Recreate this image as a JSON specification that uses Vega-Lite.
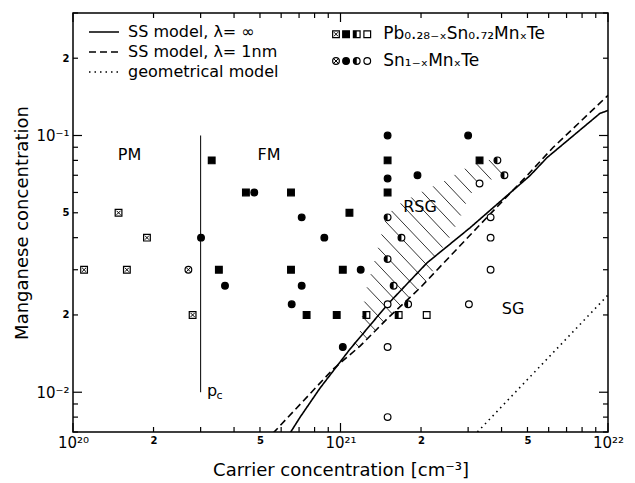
{
"$schema": "https://vega.github.io/schema/vega-lite/v6.json",
"width": 535, "height": 419,
"autosize": {"type": "none"},
"padding": {"left": 73, "top": 13, "right": 27, "bottom": 51},
"background": "white",
"config": {
  "view": {"stroke": "black", "strokeWidth": 1.5},
  "font": "DejaVu Sans",
  "axis": {"domain": false, "grid": false, "ticks": false, "labelColor": "black", "titleColor": "black", "titleFontWeight": "normal", "labelFont": "DejaVu Sans", "titleFont": "DejaVu Sans", "labelOverlap": false, "labelBound": false, "labelFlush": false},
  "legend": {"orient": "none", "legendX": 23, "legendY": 11, "title": null, "labelFontSize": 16, "labelFont": "DejaVu Sans", "labelColor": "black", "symbolType": "M-3,0L3,0", "symbolSize": 100, "symbolStrokeColor": "black", "symbolStrokeWidth": 1.5, "labelOffset": 16, "rowPadding": 4, "padding": 0}
},
"datasets": {
  "pts": [
    {"m":"Pb","s":"cross","x":1.1e20,"y":0.03},
    {"m":"Pb","s":"cross","x":1.48e20,"y":0.05},
    {"m":"Pb","s":"cross","x":1.59e20,"y":0.03},
    {"m":"Pb","s":"cross","x":1.89e20,"y":0.04},
    {"m":"Pb","s":"cross","x":2.8e20,"y":0.02},
    {"m":"Sn","s":"cross","x":2.7e20,"y":0.03},
    {"m":"Pb","s":"filled","x":3.3e20,"y":0.08},
    {"m":"Pb","s":"filled","x":3.51e20,"y":0.03},
    {"m":"Pb","s":"filled","x":4.43e20,"y":0.06},
    {"m":"Pb","s":"filled","x":6.53e20,"y":0.06},
    {"m":"Pb","s":"filled","x":6.53e20,"y":0.03},
    {"m":"Pb","s":"filled","x":7.47e20,"y":0.02},
    {"m":"Pb","s":"filled","x":9.68e20,"y":0.02},
    {"m":"Pb","s":"filled","x":1.02e21,"y":0.03},
    {"m":"Pb","s":"filled","x":1.08e21,"y":0.05},
    {"m":"Pb","s":"filled","x":1.5e21,"y":0.08},
    {"m":"Pb","s":"filled","x":1.5e21,"y":0.06},
    {"m":"Pb","s":"filled","x":3.31e21,"y":0.08},
    {"m":"Pb","s":"half","x":1.25e21,"y":0.02},
    {"m":"Pb","s":"half","x":1.65e21,"y":0.02},
    {"m":"Pb","s":"open","x":2.1e21,"y":0.02},
    {"m":"Sn","s":"filled","x":3.01e20,"y":0.04},
    {"m":"Sn","s":"filled","x":3.7e20,"y":0.026},
    {"m":"Sn","s":"filled","x":4.76e20,"y":0.06},
    {"m":"Sn","s":"filled","x":7.16e20,"y":0.048},
    {"m":"Sn","s":"filled","x":7.16e20,"y":0.026},
    {"m":"Sn","s":"filled","x":6.57e20,"y":0.022},
    {"m":"Sn","s":"filled","x":8.7e20,"y":0.04},
    {"m":"Sn","s":"filled","x":1.19e21,"y":0.03},
    {"m":"Sn","s":"filled","x":1.02e21,"y":0.015},
    {"m":"Sn","s":"filled","x":1.5e21,"y":0.1},
    {"m":"Sn","s":"filled","x":1.5e21,"y":0.068},
    {"m":"Sn","s":"filled","x":1.94e21,"y":0.07},
    {"m":"Sn","s":"filled","x":3.0e21,"y":0.1},
    {"m":"Sn","s":"half","x":1.5e21,"y":0.048},
    {"m":"Sn","s":"half","x":1.69e21,"y":0.04},
    {"m":"Sn","s":"half","x":1.5e21,"y":0.033},
    {"m":"Sn","s":"half","x":1.58e21,"y":0.026},
    {"m":"Sn","s":"half","x":1.79e21,"y":0.022},
    {"m":"Sn","s":"half","x":3.86e21,"y":0.08},
    {"m":"Sn","s":"half","x":4.1e21,"y":0.07},
    {"m":"Sn","s":"open","x":1.5e21,"y":0.022},
    {"m":"Sn","s":"open","x":1.5e21,"y":0.015},
    {"m":"Sn","s":"open","x":1.5e21,"y":0.008},
    {"m":"Sn","s":"open","x":3.02e21,"y":0.022},
    {"m":"Sn","s":"open","x":3.31e21,"y":0.065},
    {"m":"Sn","s":"open","x":3.64e21,"y":0.048},
    {"m":"Sn","s":"open","x":3.64e21,"y":0.04},
    {"m":"Sn","s":"open","x":3.64e21,"y":0.03}
  ],
  "keysym": [
    {"m":"Pb","s":"cross","x":9.62e20,"y":0.248},
    {"m":"Pb","s":"filled","x":1.049e21,"y":0.248},
    {"m":"Pb","s":"half","x":1.15e21,"y":0.248},
    {"m":"Pb","s":"open","x":1.259e21,"y":0.248},
    {"m":"Sn","s":"cross","x":9.62e20,"y":0.195},
    {"m":"Sn","s":"filled","x":1.049e21,"y":0.195},
    {"m":"Sn","s":"half","x":1.15e21,"y":0.195},
    {"m":"Sn","s":"open","x":1.259e21,"y":0.195}
  ],
  "keytext": [
    {"t":"Pb₀.₂₈₋ₓSn₀.₇₂MnₓTe","x":1.445e21,"y":0.248},
    {"t":"Sn₁₋ₓMnₓTe","x":1.445e21,"y":0.195}
  ],
  "xt": [{"v":1e20},{"v":2e20},{"v":3e20},{"v":4e20},{"v":5e20},{"v":6e20},{"v":7e20},{"v":8e20},{"v":9e20},{"v":1e21},{"v":2e21},{"v":3e21},{"v":4e21},{"v":5e21},{"v":6e21},{"v":7e21},{"v":8e21},{"v":9e21},{"v":1e22}],
  "yt": [{"v":0.007},{"v":0.008},{"v":0.009},{"v":0.01},{"v":0.02},{"v":0.03},{"v":0.04},{"v":0.05},{"v":0.06},{"v":0.07},{"v":0.08},{"v":0.09},{"v":0.1},{"v":0.2},{"v":0.3}],
  "curves": [
    {"model":"SS model, λ= ∞","x":6.47e20,"y":0.00692},
    {"model":"SS model, λ= ∞","x":7.06e20,"y":0.00799},
    {"model":"SS model, λ= ∞","x":8.38e20,"y":0.01037},
    {"model":"SS model, λ= ∞","x":1.085e21,"y":0.01472},
    {"model":"SS model, λ= ∞","x":1.505e21,"y":0.02207},
    {"model":"SS model, λ= ∞","x":2.106e21,"y":0.03191},
    {"model":"SS model, λ= ∞","x":3.05e21,"y":0.04371},
    {"model":"SS model, λ= ∞","x":5.11e21,"y":0.06978},
    {"model":"SS model, λ= ∞","x":5.92e21,"y":0.08205},
    {"model":"SS model, λ= ∞","x":9.33e21,"y":0.1219},
    {"model":"SS model, λ= ∞","x":1e22,"y":0.1252},
    {"model":"SS model, λ= 1nm","x":5.59e20,"y":0.00692},
    {"model":"SS model, λ= 1nm","x":7.24e20,"y":0.00922},
    {"model":"SS model, λ= 1nm","x":9.38e20,"y":0.0123},
    {"model":"SS model, λ= 1nm","x":1.183e21,"y":0.01512},
    {"model":"SS model, λ= 1nm","x":1.505e21,"y":0.01946},
    {"model":"SS model, λ= 1nm","x":1.983e21,"y":0.02548},
    {"model":"SS model, λ= 1nm","x":3.24e21,"y":0.04371},
    {"model":"SS model, λ= 1nm","x":4.98e21,"y":0.06978},
    {"model":"SS model, λ= 1nm","x":6.23e21,"y":0.08977},
    {"model":"SS model, λ= 1nm","x":1e22,"y":0.1433},
    {"model":"geometrical model","x":3.25e21,"y":0.007},
    {"model":"geometrical model","x":1e22,"y":0.0239}
  ],
  "hatch": [
    {"x":1.130e21,"y":0.01562,"x2":1.173e21,"y2":0.01500},
    {"x":1.183e21,"y":0.01731,"x2":1.260e21,"y2":0.01615},
    {"x":1.205e21,"y":0.01976,"x2":1.353e21,"y2":0.01740},
    {"x":1.228e21,"y":0.02255,"x2":1.453e21,"y2":0.01875},
    {"x":1.256e21,"y":0.02562,"x2":1.562e21,"y2":0.02019},
    {"x":1.298e21,"y":0.02883,"x2":1.680e21,"y2":0.02169},
    {"x":1.340e21,"y":0.03243,"x2":1.808e21,"y2":0.02333},
    {"x":1.382e21,"y":0.03652,"x2":1.945e21,"y2":0.02510},
    {"x":1.423e21,"y":0.04119,"x2":2.088e21,"y2":0.02706},
    {"x":1.464e21,"y":0.04656,"x2":2.212e21,"y2":0.02961},
    {"x":1.552e21,"y":0.05084,"x2":2.264e21,"y2":0.03362},
    {"x":1.678e21,"y":0.05439,"x2":2.410e21,"y2":0.03658},
    {"x":1.839e21,"y":0.05736,"x2":2.553e21,"y2":0.03999},
    {"x":2.017e21,"y":0.06038,"x2":2.684e21,"y2":0.04410},
    {"x":2.219e21,"y":0.06339,"x2":2.817e21,"y2":0.04879},
    {"x":2.442e21,"y":0.06648,"x2":2.938e21,"y2":0.05425},
    {"x":2.668e21,"y":0.07023,"x2":3.094e21,"y2":0.05973},
    {"x":2.917e21,"y":0.07425,"x2":3.294e21,"y2":0.06494},
    {"x":3.219e21,"y":0.07766,"x2":3.662e21,"y2":0.06737},
    {"x":3.587e21,"y":0.08030,"x2":4.026e21,"y2":0.07073}
  ],
  "pc": [{"x":3e20,"y":0.01,"y2":0.1}],
  "regions": [
    {"t":"PM","x":1.626e20,"y":0.0843},
    {"t":"FM","x":5.404e20,"y":0.0843},
    {"t":"RSG","x":1.983e21,"y":0.0528},
    {"t":"SG","x":4.416e21,"y":0.0211}
  ],
  "pcp": [{"t":"p","x":3.17e20,"y":0.00965}],
  "pcc": [{"t":"c","x":3.44e20,"y":0.00939}]
},
"resolve": {"axis": {"x": "independent", "y": "independent"}},
"layer": [
  {"data":{"name":"xt"},"transform":[{"filter":"!(datum.v==1e20||datum.v==1e21||datum.v==1e22)"}],
   "mark":{"type":"rule","color":"black","strokeWidth":1.2,"y2Offset":-5},
   "encoding":{"x":{"field":"v","type":"quantitative","scale":{"type":"log","domain":[1e20,1e22],"nice":false},"axis":null},
     "y":{"datum":0.007,"type":"quantitative","scale":{"type":"log","domain":[0.007,0.3],"nice":false},"axis":null},
     "y2":{"datum":0.007}}},
  {"data":{"name":"xt"},"transform":[{"filter":"datum.v==1e20||datum.v==1e21||datum.v==1e22"}],
   "mark":{"type":"rule","color":"black","strokeWidth":1.2,"y2Offset":-9},
   "encoding":{"x":{"field":"v","type":"quantitative","scale":{"type":"log","domain":[1e20,1e22],"nice":false},"axis":null},
     "y":{"datum":0.007,"type":"quantitative","scale":{"type":"log","domain":[0.007,0.3],"nice":false},"axis":null},
     "y2":{"datum":0.007}}},
  {"data":{"name":"xt"},"transform":[{"filter":"!(datum.v==1e20||datum.v==1e21||datum.v==1e22)"}],
   "mark":{"type":"rule","color":"black","strokeWidth":1.2,"y2Offset":5},
   "encoding":{"x":{"field":"v","type":"quantitative","scale":{"type":"log","domain":[1e20,1e22],"nice":false},"axis":null},
     "y":{"datum":0.3,"type":"quantitative","scale":{"type":"log","domain":[0.007,0.3],"nice":false},"axis":null},
     "y2":{"datum":0.3}}},
  {"data":{"name":"xt"},"transform":[{"filter":"datum.v==1e20||datum.v==1e21||datum.v==1e22"}],
   "mark":{"type":"rule","color":"black","strokeWidth":1.2,"y2Offset":9},
   "encoding":{"x":{"field":"v","type":"quantitative","scale":{"type":"log","domain":[1e20,1e22],"nice":false},"axis":null},
     "y":{"datum":0.3,"type":"quantitative","scale":{"type":"log","domain":[0.007,0.3],"nice":false},"axis":null},
     "y2":{"datum":0.3}}},
  {"data":{"name":"yt"},"transform":[{"filter":"!(datum.v==0.01||datum.v==0.1)"}],
   "mark":{"type":"rule","color":"black","strokeWidth":1.2,"x2Offset":5},
   "encoding":{"y":{"field":"v","type":"quantitative","scale":{"type":"log","domain":[0.007,0.3],"nice":false},"axis":null},
     "x":{"datum":1e20,"type":"quantitative","scale":{"type":"log","domain":[1e20,1e22],"nice":false},"axis":null},
     "x2":{"datum":1e20}}},
  {"data":{"name":"yt"},"transform":[{"filter":"datum.v==0.01||datum.v==0.1"}],
   "mark":{"type":"rule","color":"black","strokeWidth":1.2,"x2Offset":9},
   "encoding":{"y":{"field":"v","type":"quantitative","scale":{"type":"log","domain":[0.007,0.3],"nice":false},"axis":null},
     "x":{"datum":1e20,"type":"quantitative","scale":{"type":"log","domain":[1e20,1e22],"nice":false},"axis":null},
     "x2":{"datum":1e20}}},
  {"data":{"name":"yt"},"transform":[{"filter":"!(datum.v==0.01||datum.v==0.1)"}],
   "mark":{"type":"rule","color":"black","strokeWidth":1.2,"x2Offset":-5},
   "encoding":{"y":{"field":"v","type":"quantitative","scale":{"type":"log","domain":[0.007,0.3],"nice":false},"axis":null},
     "x":{"datum":1e22,"type":"quantitative","scale":{"type":"log","domain":[1e20,1e22],"nice":false},"axis":null},
     "x2":{"datum":1e22}}},
  {"data":{"name":"yt"},"transform":[{"filter":"datum.v==0.01||datum.v==0.1"}],
   "mark":{"type":"rule","color":"black","strokeWidth":1.2,"x2Offset":-9},
   "encoding":{"y":{"field":"v","type":"quantitative","scale":{"type":"log","domain":[0.007,0.3],"nice":false},"axis":null},
     "x":{"datum":1e22,"type":"quantitative","scale":{"type":"log","domain":[1e20,1e22],"nice":false},"axis":null},
     "x2":{"datum":1e22}}},
  {"data":{"name":"hatch"},"mark":{"type":"rule","stroke":"black","strokeWidth":0.8,"clip":true},
   "encoding":{"x":{"field":"x","type":"quantitative","scale":{"type":"log","domain":[1e20,1e22],"nice":false},"axis":null},
     "y":{"field":"y","type":"quantitative","scale":{"type":"log","domain":[0.007,0.3],"nice":false},"axis":null},
     "x2":{"field":"x2"},"y2":{"field":"y2"}}},
  {"data":{"name":"curves"},"mark":{"type":"line","stroke":"black","strokeWidth":1.6,"clip":true},
   "encoding":{"x":{"field":"x","type":"quantitative","scale":{"type":"log","domain":[1e20,1e22],"nice":false},"axis":null},
     "y":{"field":"y","type":"quantitative","scale":{"type":"log","domain":[0.007,0.3],"nice":false},"axis":null},
     "strokeDash":{"field":"model","type":"nominal","scale":{"domain":["SS model, λ= ∞","SS model, λ= 1nm","geometrical model"],"range":[[1,0],[7,4],[1.5,4]]}}}},
  {"data":{"name":"pc"},"mark":{"type":"rule","stroke":"black","strokeWidth":1},
   "encoding":{"x":{"field":"x","type":"quantitative","scale":{"type":"log","domain":[1e20,1e22],"nice":false},"axis":null},
     "y":{"field":"y","type":"quantitative","scale":{"type":"log","domain":[0.007,0.3],"nice":false},"axis":null},
     "y2":{"field":"y2"}}},
  {"data":{"name":"pts"},"transform":[{"filter":"datum.m=='Pb'"}],
   "mark":{"type":"point","shape":"square","size":45,"filled":true,"stroke":"black","strokeWidth":1.2,"opacity":1},
   "encoding":{"x":{"field":"x","type":"quantitative","scale":{"type":"log","domain":[1e20,1e22],"nice":false},
       "axis":{"orient":"bottom","title":"Carrier concentration [cm⁻³]","titleFontSize":18,"titleBaseline":"middle","titleY":38,
         "values":[1e20,2e20,5e20,1e21,2e21,5e21,1e22],
         "labelExpr":"datum.value==1e20?'10²⁰':datum.value==1e21?'10²¹':datum.value==1e22?'10²²':(datum.value==2e20||datum.value==2e21)?'2':(datum.value==5e20||datum.value==5e21)?'5':''",
         "labelFontSize":{"condition":{"test":"datum.value==1e20||datum.value==1e21||datum.value==1e22","value":15},"value":10},
         "labelFontWeight":{"condition":{"test":"datum.value==1e20||datum.value==1e21||datum.value==1e22","value":"normal"},"value":"bold"},
         "labelPadding":3}},
     "y":{"field":"y","type":"quantitative","scale":{"type":"log","domain":[0.007,0.3],"nice":false},
       "axis":{"orient":"left","title":"Manganese concentration","titleFontSize":18,"titleBaseline":"middle","titleX":-51,"titleY":209.5,"titleAlign":"center",
         "values":[0.01,0.02,0.05,0.1,0.2],
         "labelExpr":"datum.value==0.1?'10⁻¹':datum.value==0.01?'10⁻²':(datum.value==0.2||datum.value==0.02)?'2':datum.value==0.05?'5':''",
         "labelFontSize":{"condition":{"test":"datum.value==0.1||datum.value==0.01","value":15},"value":10},
         "labelFontWeight":{"condition":{"test":"datum.value==0.1||datum.value==0.01","value":"normal"},"value":"bold"},
         "labelPadding":4}},
     "fill":{"condition":{"test":"datum.s=='filled'","value":"black"},"value":"white"}}},
  {"data":{"name":"pts"},"transform":[{"filter":"datum.m=='Sn'"}],
   "mark":{"type":"point","shape":"circle","size":45,"filled":true,"stroke":"black","strokeWidth":1.2,"opacity":1},
   "encoding":{"x":{"field":"x","type":"quantitative","scale":{"type":"log","domain":[1e20,1e22],"nice":false},"axis":null},
     "y":{"field":"y","type":"quantitative","scale":{"type":"log","domain":[0.007,0.3],"nice":false},"axis":null},
     "fill":{"condition":{"test":"datum.s=='filled'","value":"black"},"value":"white"}}},
  {"data":{"name":"pts"},"transform":[{"filter":"datum.m=='Pb' && datum.s=='half'"}],
   "mark":{"type":"point","shape":"M-1,-1H0V1H-1Z","size":45,"filled":true,"fill":"black","strokeWidth":0,"opacity":1},
   "encoding":{"x":{"field":"x","type":"quantitative","scale":{"type":"log","domain":[1e20,1e22],"nice":false},"axis":null},
     "y":{"field":"y","type":"quantitative","scale":{"type":"log","domain":[0.007,0.3],"nice":false},"axis":null}}},
  {"data":{"name":"pts"},"transform":[{"filter":"datum.m=='Sn' && datum.s=='half'"}],
   "mark":{"type":"point","shape":"M0,-1A1,1,0,0,0,0,1Z","size":45,"filled":true,"fill":"black","strokeWidth":0,"opacity":1},
   "encoding":{"x":{"field":"x","type":"quantitative","scale":{"type":"log","domain":[1e20,1e22],"nice":false},"axis":null},
     "y":{"field":"y","type":"quantitative","scale":{"type":"log","domain":[0.007,0.3],"nice":false},"axis":null}}},
  {"data":{"name":"pts"},"transform":[{"filter":"datum.s=='cross'"}],
   "mark":{"type":"point","shape":"M-0.6,-0.6L0.6,0.6M-0.6,0.6L0.6,-0.6","size":45,"filled":false,"stroke":"black","strokeWidth":1,"opacity":1},
   "encoding":{"x":{"field":"x","type":"quantitative","scale":{"type":"log","domain":[1e20,1e22],"nice":false},"axis":null},
     "y":{"field":"y","type":"quantitative","scale":{"type":"log","domain":[0.007,0.3],"nice":false},"axis":null}}},
  {"data":{"name":"keysym"},"transform":[{"filter":"datum.m=='Pb'"}],
   "mark":{"type":"point","shape":"square","size":45,"filled":true,"stroke":"black","strokeWidth":1.2,"opacity":1},
   "encoding":{"x":{"field":"x","type":"quantitative","scale":{"type":"log","domain":[1e20,1e22],"nice":false},"axis":null},
     "y":{"field":"y","type":"quantitative","scale":{"type":"log","domain":[0.007,0.3],"nice":false},"axis":null},
     "fill":{"condition":{"test":"datum.s=='filled'","value":"black"},"value":"white"}}},
  {"data":{"name":"keysym"},"transform":[{"filter":"datum.m=='Sn'"}],
   "mark":{"type":"point","shape":"circle","size":45,"filled":true,"stroke":"black","strokeWidth":1.2,"opacity":1},
   "encoding":{"x":{"field":"x","type":"quantitative","scale":{"type":"log","domain":[1e20,1e22],"nice":false},"axis":null},
     "y":{"field":"y","type":"quantitative","scale":{"type":"log","domain":[0.007,0.3],"nice":false},"axis":null},
     "fill":{"condition":{"test":"datum.s=='filled'","value":"black"},"value":"white"}}},
  {"data":{"name":"keysym"},"transform":[{"filter":"datum.m=='Pb' && datum.s=='half'"}],
   "mark":{"type":"point","shape":"M-1,-1H0V1H-1Z","size":45,"filled":true,"fill":"black","strokeWidth":0,"opacity":1},
   "encoding":{"x":{"field":"x","type":"quantitative","scale":{"type":"log","domain":[1e20,1e22],"nice":false},"axis":null},
     "y":{"field":"y","type":"quantitative","scale":{"type":"log","domain":[0.007,0.3],"nice":false},"axis":null}}},
  {"data":{"name":"keysym"},"transform":[{"filter":"datum.m=='Sn' && datum.s=='half'"}],
   "mark":{"type":"point","shape":"M0,-1A1,1,0,0,0,0,1Z","size":45,"filled":true,"fill":"black","strokeWidth":0,"opacity":1},
   "encoding":{"x":{"field":"x","type":"quantitative","scale":{"type":"log","domain":[1e20,1e22],"nice":false},"axis":null},
     "y":{"field":"y","type":"quantitative","scale":{"type":"log","domain":[0.007,0.3],"nice":false},"axis":null}}},
  {"data":{"name":"keysym"},"transform":[{"filter":"datum.s=='cross'"}],
   "mark":{"type":"point","shape":"M-0.6,-0.6L0.6,0.6M-0.6,0.6L0.6,-0.6","size":45,"filled":false,"stroke":"black","strokeWidth":1,"opacity":1},
   "encoding":{"x":{"field":"x","type":"quantitative","scale":{"type":"log","domain":[1e20,1e22],"nice":false},"axis":null},
     "y":{"field":"y","type":"quantitative","scale":{"type":"log","domain":[0.007,0.3],"nice":false},"axis":null}}},
  {"data":{"name":"regions"},"mark":{"type":"text","fontSize":16,"align":"center","baseline":"middle","color":"black"},
   "encoding":{"x":{"field":"x","type":"quantitative","scale":{"type":"log","domain":[1e20,1e22],"nice":false},"axis":null},
     "y":{"field":"y","type":"quantitative","scale":{"type":"log","domain":[0.007,0.3],"nice":false},"axis":null},
     "text":{"field":"t"}}},
  {"data":{"name":"pcp"},"mark":{"type":"text","fontSize":16,"align":"left","baseline":"alphabetic","color":"black"},
   "encoding":{"x":{"field":"x","type":"quantitative","scale":{"type":"log","domain":[1e20,1e22],"nice":false},"axis":null},
     "y":{"field":"y","type":"quantitative","scale":{"type":"log","domain":[0.007,0.3],"nice":false},"axis":null},
     "text":{"field":"t"}}},
  {"data":{"name":"pcc"},"mark":{"type":"text","fontSize":11,"align":"left","baseline":"alphabetic","color":"black"},
   "encoding":{"x":{"field":"x","type":"quantitative","scale":{"type":"log","domain":[1e20,1e22],"nice":false},"axis":null},
     "y":{"field":"y","type":"quantitative","scale":{"type":"log","domain":[0.007,0.3],"nice":false},"axis":null},
     "text":{"field":"t"}}},
  {"data":{"name":"keytext"},"mark":{"type":"text","fontSize":17,"align":"left","baseline":"middle","color":"black"},
   "encoding":{"x":{"field":"x","type":"quantitative","scale":{"type":"log","domain":[1e20,1e22],"nice":false},"axis":null},
     "y":{"field":"y","type":"quantitative","scale":{"type":"log","domain":[0.007,0.3],"nice":false},"axis":null},
     "text":{"field":"t"}}}
]
}
